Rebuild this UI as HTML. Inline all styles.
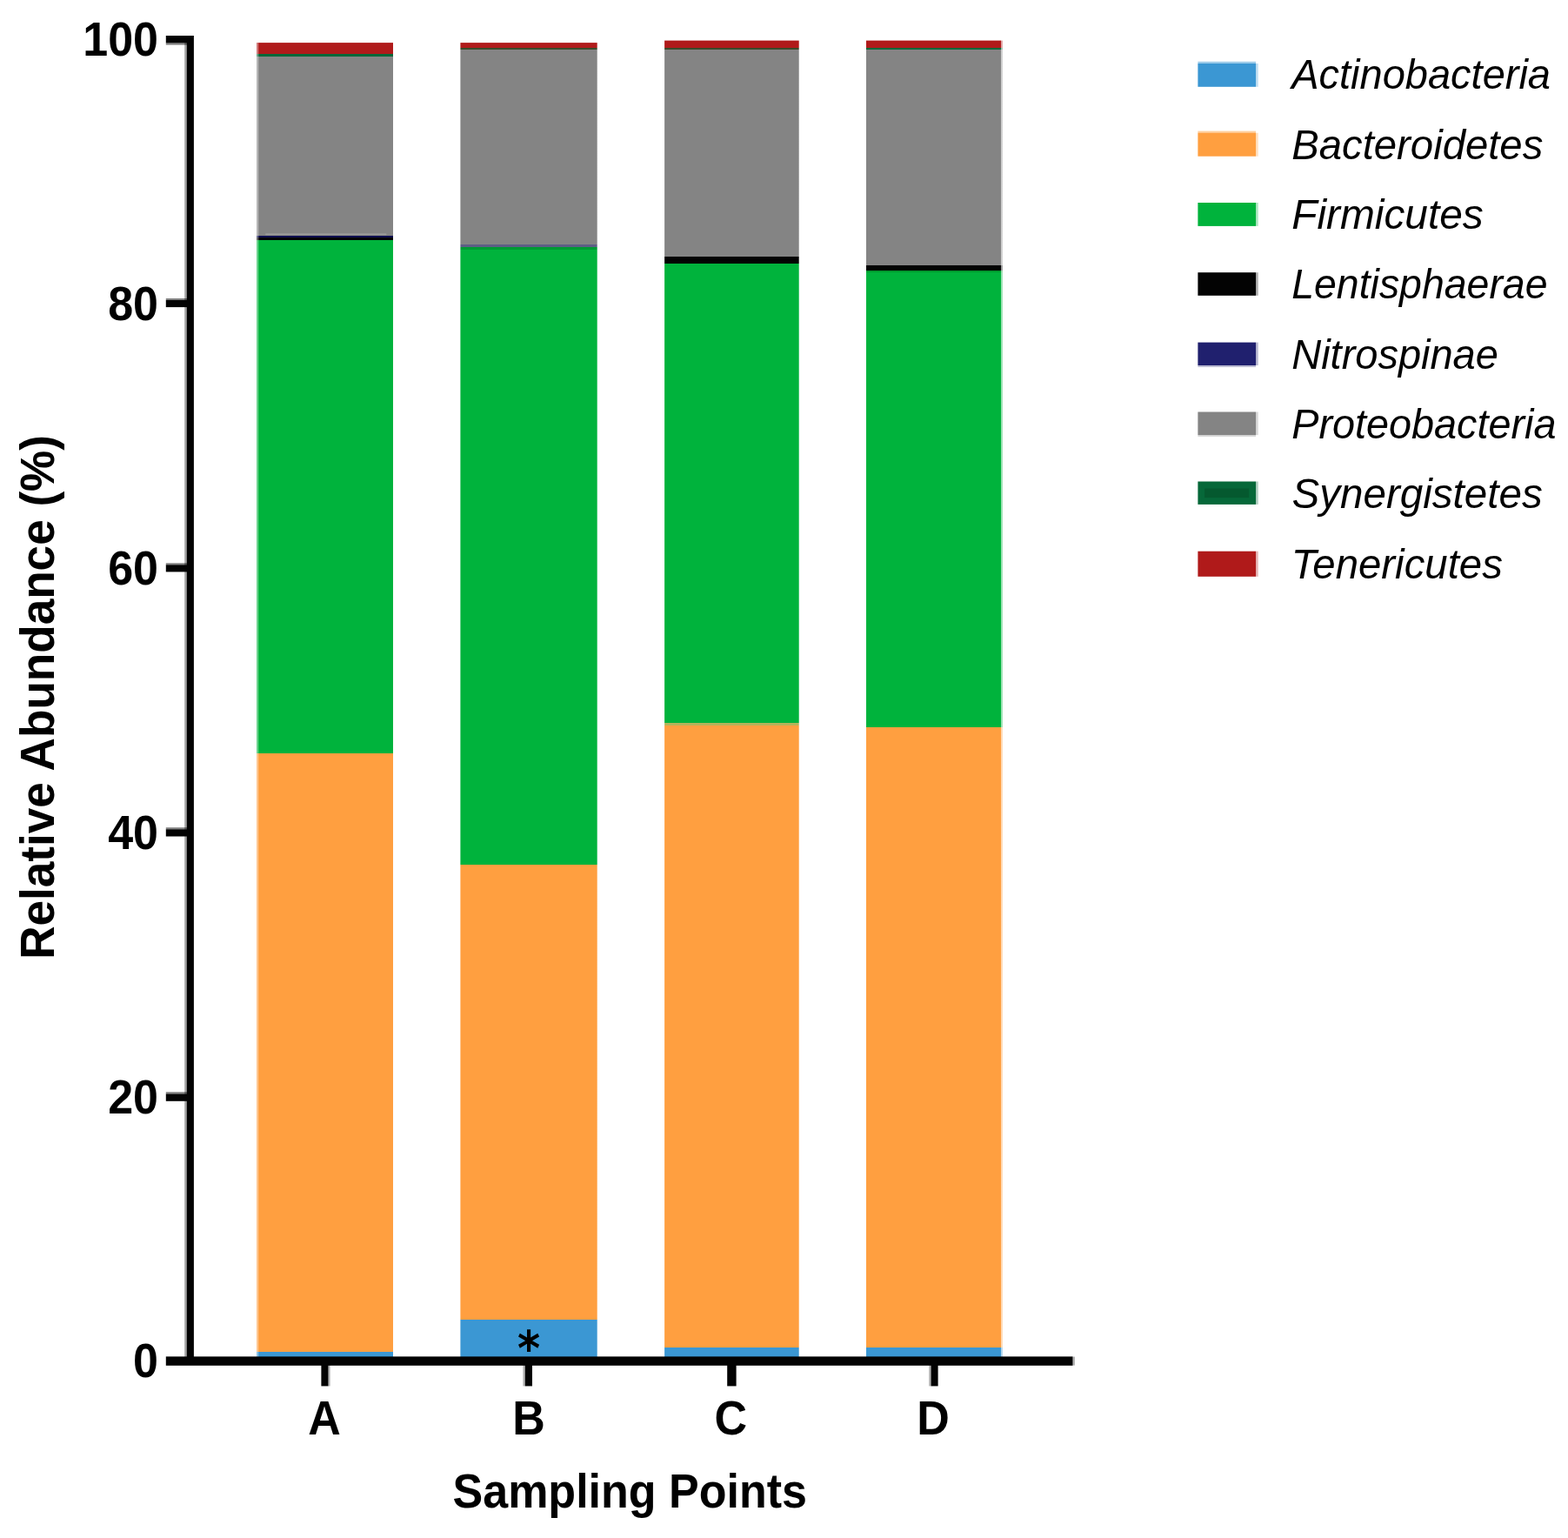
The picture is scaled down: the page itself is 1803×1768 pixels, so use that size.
<!DOCTYPE html>
<html lang="en">
<head>
<meta charset="utf-8">
<title>Relative Abundance by Sampling Points</title>
<style>
html,body{margin:0;padding:0;background:#fff;}
body{width:1803px;height:1768px;overflow:hidden;}
svg{display:block;}
text{font-family:"Liberation Sans",sans-serif;fill:#000;}
.b{font-weight:bold;font-size:52px;}
.i{font-style:italic;font-size:47px;}
.star{font-family:"DejaVu Sans","Liberation Sans",sans-serif;font-weight:bold;font-size:50px;}
</style>
</head>
<body>
<svg width="1803" height="1768" viewBox="0 0 1803 1768">
<rect width="1803" height="1768" fill="#ffffff"/>

<defs>
<linearGradient id="bar0" gradientUnits="userSpaceOnUse" x1="0" y1="49.1" x2="0" y2="1562">
<stop offset="0.000000" stop-color="#b01a1a"/><stop offset="0.008857" stop-color="#b01a1a"/>
<stop offset="0.008857" stop-color="#066839"/><stop offset="0.010708" stop-color="#066839"/>
<stop offset="0.010708" stop-color="#848484"/><stop offset="0.146540" stop-color="#848484"/>
<stop offset="0.146540" stop-color="#0d0d4f"/><stop offset="0.147796" stop-color="#0d0d4f"/>
<stop offset="0.147796" stop-color="#030303"/><stop offset="0.149779" stop-color="#030303"/>
<stop offset="0.149779" stop-color="#00b33c"/><stop offset="0.539758" stop-color="#00b33c"/>
<stop offset="0.539758" stop-color="#ff9f40"/><stop offset="0.994778" stop-color="#ff9f40"/>
<stop offset="0.994778" stop-color="#3b97d3"/><stop offset="1.000000" stop-color="#3b97d3"/>
</linearGradient>
<linearGradient id="bar1" gradientUnits="userSpaceOnUse" x1="0" y1="49.1" x2="0" y2="1562">
<stop offset="0.000000" stop-color="#b01a1a"/><stop offset="0.003635" stop-color="#b01a1a"/>
<stop offset="0.003635" stop-color="#3a4a2a"/><stop offset="0.005354" stop-color="#3a4a2a"/>
<stop offset="0.005354" stop-color="#848484"/><stop offset="0.153480" stop-color="#848484"/>
<stop offset="0.153480" stop-color="#5e5e85"/><stop offset="0.155133" stop-color="#5e5e85"/>
<stop offset="0.155133" stop-color="#009a33"/><stop offset="0.156983" stop-color="#009a33"/>
<stop offset="0.156983" stop-color="#00b33c"/><stop offset="0.624430" stop-color="#00b33c"/>
<stop offset="0.624430" stop-color="#ff9f40"/><stop offset="0.970124" stop-color="#ff9f40"/>
<stop offset="0.970124" stop-color="#3b97d3"/><stop offset="1.000000" stop-color="#3b97d3"/>
</linearGradient>
<linearGradient id="bar2" gradientUnits="userSpaceOnUse" x1="0" y1="46.6" x2="0" y2="1562">
<stop offset="0.000000" stop-color="#b01a1a"/><stop offset="0.005279" stop-color="#b01a1a"/>
<stop offset="0.005279" stop-color="#3a4a2a"/><stop offset="0.006995" stop-color="#3a4a2a"/>
<stop offset="0.006995" stop-color="#848484"/><stop offset="0.163851" stop-color="#848484"/>
<stop offset="0.163851" stop-color="#030303"/><stop offset="0.168998" stop-color="#030303"/>
<stop offset="0.168998" stop-color="#00b33c"/><stop offset="0.517619" stop-color="#00b33c"/>
<stop offset="0.517619" stop-color="#b5b35a"/><stop offset="0.519335" stop-color="#b5b35a"/>
<stop offset="0.519335" stop-color="#ff9f40"/><stop offset="0.991289" stop-color="#ff9f40"/>
<stop offset="0.991289" stop-color="#3b97d3"/><stop offset="1.000000" stop-color="#3b97d3"/>
</linearGradient>
<linearGradient id="bar3" gradientUnits="userSpaceOnUse" x1="0" y1="46.6" x2="0" y2="1562">
<stop offset="0.000000" stop-color="#b01a1a"/><stop offset="0.005279" stop-color="#b01a1a"/>
<stop offset="0.005279" stop-color="#066839"/><stop offset="0.006995" stop-color="#066839"/>
<stop offset="0.006995" stop-color="#848484"/><stop offset="0.170714" stop-color="#848484"/>
<stop offset="0.170714" stop-color="#030303"/><stop offset="0.174277" stop-color="#030303"/>
<stop offset="0.174277" stop-color="#009a2e"/><stop offset="0.175597" stop-color="#009a2e"/>
<stop offset="0.175597" stop-color="#00b33c"/><stop offset="0.520985" stop-color="#00b33c"/>
<stop offset="0.520985" stop-color="#ff9f40"/><stop offset="0.991553" stop-color="#ff9f40"/>
<stop offset="0.991553" stop-color="#3b97d3"/><stop offset="1.000000" stop-color="#3b97d3"/>
</linearGradient>
</defs>
<g id="bars">
<rect x="295.0" y="49.1" width="157.0" height="1512.9" fill="url(#bar0)"/>
<rect x="295.0" y="49.1" width="2.2" height="1512.9" fill="#ffffff" opacity="0.42"/>
<rect x="305.3" y="268.3" width="139" height="2" fill="#9a9a9a"/>
<rect x="529.4" y="49.1" width="157.3" height="1512.9" fill="url(#bar1)"/>
<rect x="764.1" y="46.6" width="154.6" height="1515.4" fill="url(#bar2)"/>
<rect x="1150.5" y="46.6" width="2.4" height="1515.4" fill="url(#bar3)" opacity="0.4"/>
<rect x="996.0" y="46.6" width="155.0" height="1515.4" fill="url(#bar3)"/>
</g>
<g id="axes" fill="#030303">
<rect x="212.2" y="49" width="3" height="1511" opacity="0.36"/>
<rect x="214.8" y="41" width="8.1" height="1524"/>
<rect x="190.8" y="1559.4" width="1042.7" height="10.4"/>
<rect x="1233.4" y="1559.6" width="2.6" height="10" opacity="0.3"/>
<rect x="190.8" y="49.0" width="25" height="2.6" opacity="0.5"/>
<rect x="190.8" y="41.0" width="27" height="8.2"/>
<rect x="190.8" y="343.0" width="25" height="2.2" opacity="0.5"/>
<rect x="190.8" y="345.0" width="27" height="8.1"/>
<rect x="190.8" y="647.3" width="25" height="2.2" opacity="0.5"/>
<rect x="190.8" y="649.3" width="27" height="8.1"/>
<rect x="190.8" y="951.2" width="25" height="2.3" opacity="0.5"/>
<rect x="190.8" y="953.3" width="27" height="8.2"/>
<rect x="190.8" y="1255.3" width="25" height="2.4" opacity="0.5"/>
<rect x="190.8" y="1257.5" width="27" height="8.3"/>
<rect x="369.4" y="1565" width="8.0" height="28.4"/>
<rect x="376.9" y="1569" width="2.7" height="24.4" opacity="0.3"/>
<rect x="603.8" y="1565" width="8.2" height="28.4"/>
<rect x="601.4" y="1569" width="2.9" height="24.4" opacity="0.3"/>
<rect x="836.2" y="1565" width="10.4" height="28.4"/>
<rect x="1070.6" y="1565" width="8.0" height="28.4"/>
<rect x="1068.2" y="1569" width="2.9" height="24.4" opacity="0.3"/>
</g>
<g id="ylabels" class="b" text-anchor="end">
<text transform="translate(182 64.0) scale(1 1.06)">100</text>
<text transform="translate(182 367.6) scale(1 1.06)">80</text>
<text transform="translate(182 672.0) scale(1 1.06)">60</text>
<text transform="translate(182 975.7) scale(1 1.06)">40</text>
<text transform="translate(182 1280.1) scale(1 1.06)">20</text>
<text transform="translate(182 1583.3) scale(1 1.06)">0</text>
</g>
<g id="xlabels" class="b" text-anchor="middle">
<text transform="translate(372.9 1648.7) scale(1 1.06)">A</text>
<text transform="translate(608 1648.7) scale(1 1.06)">B</text>
<text transform="translate(840.2 1648.7) scale(1 1.06)">C</text>
<text transform="translate(1073 1648.7) scale(1 1.06)">D</text>
</g>
<text class="b" text-anchor="middle" transform="translate(724.2 1732.6) scale(1 1.06)">Sampling Points</text>
<text class="b" style="font-size:53.1px" text-anchor="middle" transform="translate(62.4 801.4) rotate(-90) scale(1 1.044)">Relative Abundance (%)</text>
<text class="star" text-anchor="middle" transform="translate(608 1568.6) scale(1 1.12)">*</text>
<g id="legend">
<rect x="1377.4" y="70.8" width="66.7" height="2.4" fill="#3b97d3" opacity="0.5"/>
<rect x="1444" y="73.0" width="2.8" height="26.8" fill="#3b97d3" opacity="0.3"/>
<rect x="1377.4" y="73.0" width="66.7" height="26.8" fill="#3b97d3"/>
<text class="i" textLength="297.8" lengthAdjust="spacingAndGlyphs" transform="translate(1485.2 102.3) scale(1 1.03)">Actinobacteria</text>
<rect x="1377.4" y="150.6" width="66.7" height="2.4" fill="#ff9f40" opacity="0.5"/>
<rect x="1444" y="152.8" width="2.8" height="26.9" fill="#ff9f40" opacity="0.3"/>
<rect x="1377.4" y="152.8" width="66.7" height="26.9" fill="#ff9f40"/>
<text class="i" textLength="289.1" lengthAdjust="spacingAndGlyphs" transform="translate(1485.2 182.6) scale(1 1.03)">Bacteroidetes</text>
<rect x="1444" y="233" width="2.8" height="26.9" fill="#00b33c" opacity="0.3"/>
<rect x="1377.4" y="233" width="66.7" height="26.9" fill="#00b33c"/>
<text class="i" textLength="220.6" lengthAdjust="spacingAndGlyphs" transform="translate(1485.2 263.0) scale(1 1.03)">Firmicutes</text>
<rect x="1444" y="313.2" width="2.8" height="26.6" fill="#030303" opacity="0.3"/>
<rect x="1377.4" y="313.2" width="66.7" height="26.6" fill="#030303"/>
<text class="i" textLength="294.3" lengthAdjust="spacingAndGlyphs" transform="translate(1485.2 343.3) scale(1 1.03)">Lentisphaerae</text>
<rect x="1377.4" y="419.8" width="66.7" height="2.2" fill="#20206e" opacity="0.3"/>
<rect x="1444" y="393.6" width="2.8" height="26.4" fill="#20206e" opacity="0.3"/>
<rect x="1377.4" y="393.6" width="66.7" height="26.4" fill="#20206e"/>
<text class="i" textLength="237.7" lengthAdjust="spacingAndGlyphs" transform="translate(1485.2 423.7) scale(1 1.03)">Nitrospinae</text>
<rect x="1377.4" y="499.9" width="66.7" height="2.2" fill="#848484" opacity="0.3"/>
<rect x="1444" y="473.5" width="2.8" height="26.6" fill="#848484" opacity="0.3"/>
<rect x="1377.4" y="473.5" width="66.7" height="26.6" fill="#848484"/>
<text class="i" textLength="304.2" lengthAdjust="spacingAndGlyphs" transform="translate(1485.2 504.1) scale(1 1.03)">Proteobacteria</text>
<rect x="1444" y="553.5" width="2.8" height="26.4" fill="#066839" opacity="0.3"/>
<rect x="1377.4" y="553.5" width="66.7" height="26.4" fill="#066839"/>
<rect x="1385.2" y="561.6" width="51" height="10.5" fill="#05592f"/>
<text class="i" textLength="288.2" lengthAdjust="spacingAndGlyphs" transform="translate(1485.5 584.4) scale(1 1.03)">Synergistetes</text>
<rect x="1444" y="633.7" width="2.8" height="29.1" fill="#b01a1a" opacity="0.3"/>
<rect x="1377.4" y="633.7" width="66.7" height="29.1" fill="#b01a1a"/>
<text class="i" textLength="243.2" lengthAdjust="spacingAndGlyphs" transform="translate(1484.7 664.7) scale(1 1.03)">Tenericutes</text>
</g>
</svg>
</body>
</html>
